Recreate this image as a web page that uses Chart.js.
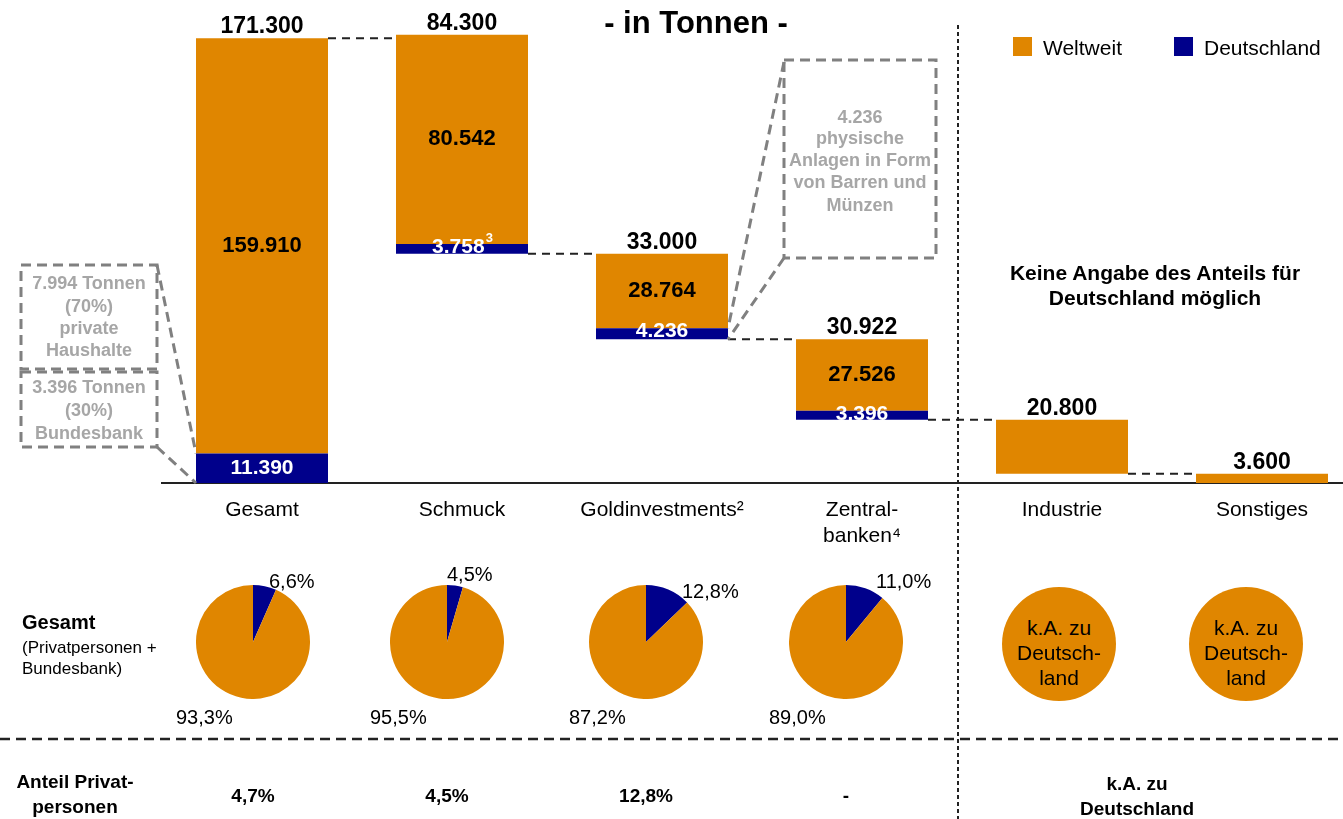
<!DOCTYPE html>
<html>
<head>
<meta charset="utf-8">
<script src="https://cdn.jsdelivr.net/npm/chart.js"></script>
<style>
  html, body { margin: 0; padding: 0; overflow: hidden; background: #fff; width: 1343px; height: 819px; }
  body { position: relative; font-family: Arial, "Liberation Sans", sans-serif; color: #000; }
  #main { position: absolute; left: 0; top: 0; }
  .t { position: absolute; white-space: nowrap; line-height: 1; transform: translate(-50%, -50%); }
  .l { transform: translate(0, -50%); }
  .gray { color: #a6a6a6; font-weight: bold; font-size: 18px; }
  .sq { position: absolute; width: 19px; height: 19px; }
  .ka { position: absolute; width: 114px; height: 114px; border-radius: 50%; }
  .pie { position: absolute; }
</style>
</head>
<body>
<canvas id="main" width="1362" height="819"></canvas>
<script>
const FONT = 'Arial, "Liberation Sans", sans-serif';
const ORANGE = '#e08600';
const NAVY = '#00008b';

// Balken (Tonnen)
const categories = ['Gesamt', 'Schmuck', 'Goldinvestments²', ['Zentral-', 'banken⁴'], 'Industrie', 'Sonstiges'];
const totals = [171300, 84300, 33000, 30922, 20800, 3600];
const weltweitRest = [159910, 80542, 28764, 27526, 20800, 3600];
const deutschland = [11390, 3758, 4236, 3396, 0, 0];
const deNote = ['', '3', '', '', '', ''];
const barBase = [0, 88322, 55322, 24400, 3600, 0];

// Tortendiagramme (%)
const pieDE = [6.6, 4.5, 12.8, 11.0];
const pieWelt = [93.3, 95.5, 87.2, 89.0];
const pieX = [253, 447, 646, 846];
const deLabelPos = [[269, 581], [447, 574], [682, 591], [876, 581]];

// Anteil Privatpersonen
const privatAnteil = ['4,7%', '4,5%', '12,8%', '-'];

const fmt = v => v.toLocaleString('de-DE');
const fmtPct = v => v.toLocaleString('de-DE', { minimumFractionDigits: 1, maximumFractionDigits: 1 }) + '%';

function txt(s, x, y, css, left) {
  const d = document.createElement('div');
  d.className = 't' + (left ? ' l' : '');
  d.textContent = s;
  d.style.left = x + 'px';
  d.style.top = y + 'px';
  d.style.cssText += css || '';
  document.body.appendChild(d);
  return d;
}

function line(ctx, x1, y1, x2, y2) {
  ctx.beginPath(); ctx.moveTo(x1, y1); ctx.lineTo(x2, y2); ctx.stroke();
}

const extras = {
  id: 'extras',
  afterDatasetsDraw(chart) {
    const ctx = chart.ctx, y = chart.scales.y;
    const wBars = chart.getDatasetMeta(1).data;
    ctx.save();

    // Verbindungslinien
    ctx.strokeStyle = '#222'; ctx.lineWidth = 2; ctx.setLineDash([8, 6]);
    for (let i = 0; i < categories.length - 1; i++) {
      const level = i === 0 ? totals[0] : barBase[i];
      const py = y.getPixelForValue(level);
      line(ctx, wBars[i].x + wBars[i].width / 2, py, wBars[i + 1].x - wBars[i + 1].width / 2, py);
    }

    // Werte
    ctx.setLineDash([]);
    ctx.textAlign = 'center';
    for (let i = 0; i < categories.length; i++) {
      const x = wBars[i].x;
      const top = y.getPixelForValue(barBase[i] + totals[i]);
      ctx.fillStyle = '#000';
      ctx.font = 'bold 23px ' + FONT;
      ctx.textBaseline = 'alphabetic';
      ctx.fillText(fmt(totals[i]), x, top - 5);
      if (deutschland[i] > 0) {
        const deTop = y.getPixelForValue(barBase[i] + deutschland[i]);
        const deBot = y.getPixelForValue(barBase[i]);
        ctx.font = 'bold 22px ' + FONT;
        ctx.textBaseline = 'middle';
        ctx.fillText(fmt(weltweitRest[i]), x, (top + deTop) / 2);
        ctx.fillStyle = '#fff';
        ctx.font = 'bold 21px ' + FONT;
        const ly = deBot - deTop > 20 ? (deTop + deBot) / 2 : deTop + 3;
        const main = fmt(deutschland[i]);
        if (deNote[i]) {
          const w = ctx.measureText(main).width;
          ctx.font = 'bold 13px ' + FONT;
          const w2 = ctx.measureText(deNote[i]).width;
          ctx.textAlign = 'left';
          ctx.fillText(deNote[i], x - (w + w2) / 2 + w + 1, ly - 8);
          ctx.font = 'bold 21px ' + FONT;
          ctx.fillText(main, x - (w + w2) / 2, ly);
          ctx.textAlign = 'center';
        } else {
          ctx.fillText(main, x, ly);
        }
      }
    }

    // Anmerkungsboxen
    ctx.strokeStyle = '#808080'; ctx.lineWidth = 3; ctx.setLineDash([10, 6]);
    ctx.strokeRect(21, 265, 136, 104);
    ctx.strokeRect(21, 372, 136, 75);
    ctx.strokeRect(784, 60, 152, 198);
    const g = wBars[0].x - wBars[0].width / 2;
    line(ctx, 157, 265, g, y.getPixelForValue(barBase[0] + deutschland[0]));
    line(ctx, 157, 447, g, y.getPixelForValue(barBase[0]));
    const r = wBars[2].x + wBars[2].width / 2;
    line(ctx, 784, 62, r, y.getPixelForValue(barBase[2] + deutschland[2]));
    line(ctx, 784, 258, r, y.getPixelForValue(barBase[2]));
    ctx.restore();
  },
  afterDraw(chart) {
    const ctx = chart.ctx;
    ctx.save();
    ctx.strokeStyle = '#222'; ctx.lineWidth = 2;
    ctx.setLineDash([4, 3]);
    line(ctx, 958, 25, 958, 819);
    ctx.setLineDash([10, 6]); ctx.lineWidth = 2.5;
    line(ctx, 0, 739, 1343, 739);
    ctx.restore();
  }
};

new Chart(document.getElementById('main'), {
  type: 'bar',
  data: {
    labels: categories,
    datasets: [
      {
        label: 'Deutschland',
        data: deutschland.map((v, i) => v > 0 ? [barBase[i], barBase[i] + v] : null),
        backgroundColor: NAVY, grouped: false, barPercentage: 0.66, categoryPercentage: 1
      },
      {
        label: 'Weltweit',
        data: weltweitRest.map((v, i) => [barBase[i] + deutschland[i], barBase[i] + deutschland[i] + v]),
        backgroundColor: ORANGE, grouped: false, barPercentage: 0.66, categoryPercentage: 1
      }
    ]
  },
  options: {
    responsive: false,
    animation: false,
    layout: { padding: { left: 162, right: 0, top: 0, bottom: 0 } },
    plugins: { legend: { display: false }, tooltip: { enabled: false } },
    scales: {
      x: {
        grid: { display: false, drawTicks: false },
        border: { display: true, color: '#222', width: 2 },
        ticks: { color: '#000', padding: 15, font: { size: 21, family: FONT } },
        afterFit(s) { s.height = 336; }
      },
      y: { display: false, min: 0, max: 186000 }
    }
  },
  plugins: [extras]
});

// Tortendiagramme
pieDE.forEach((v, i) => {
  const c = document.createElement('canvas');
  c.width = 114; c.height = 114; c.className = 'pie';
  c.style.left = (pieX[i] - 57) + 'px';
  c.style.top = (642 - 57) + 'px';
  document.body.appendChild(c);
  new Chart(c, {
    type: 'pie',
    data: { labels: ['Deutschland', 'Weltweit'], datasets: [{ data: [v, pieWelt[i]], backgroundColor: [NAVY, ORANGE], borderWidth: 0 }] },
    options: { responsive: false, animation: false, plugins: { legend: { display: false }, tooltip: { enabled: false } } }
  });
  txt(fmtPct(v), deLabelPos[i][0], deLabelPos[i][1], 'font-size:20px;', true);
  txt(fmtPct(pieWelt[i]), pieX[i] - 77, 717, 'font-size:20px;', true);
  txt(privatAnteil[i], pieX[i], 795, 'font-size:19px;font-weight:bold;');
});

// k.A.-Kreise
[1059, 1246].forEach(cx => {
  const d = document.createElement('div');
  d.className = 'ka';
  d.style.left = (cx - 57) + 'px'; d.style.top = (644 - 57) + 'px';
  d.style.background = ORANGE;
  document.body.appendChild(d);
  txt('k.A. zu', cx, 627, 'font-size:21px;');
  txt('Deutsch-', cx, 652, 'font-size:21px;');
  txt('land', cx, 677, 'font-size:21px;');
});

// Titel und Legende
txt('- in Tonnen -', 696, 22, 'font-size:31px;font-weight:bold;');
[[1013, ORANGE, 'Weltweit'], [1174, NAVY, 'Deutschland']].forEach(([x, col, name]) => {
  const s = document.createElement('div');
  s.className = 'sq'; s.style.left = x + 'px'; s.style.top = '37px'; s.style.background = col;
  document.body.appendChild(s);
  txt(name, x + 30, 47, 'font-size:21px;', true);
});

// Texte
txt('Keine Angabe des Anteils für', 1155, 272, 'font-size:21px;font-weight:bold;');
txt('Deutschland möglich', 1155, 297, 'font-size:21px;font-weight:bold;');

[['7.994 Tonnen', 283], ['(70%)', 306], ['private', 328], ['Haushalte', 350],
 ['3.396 Tonnen', 387], ['(30%)', 410], ['Bundesbank', 433]].forEach(([s, y]) => {
  txt(s, 89, y).className += ' gray';
});
[['4.236', 117], ['physische', 138], ['Anlagen in Form', 160], ['von Barren und', 182], ['Münzen', 205]].forEach(([s, y]) => {
  txt(s, 860, y).className += ' gray';
});

txt('Gesamt', 22, 622, 'font-size:20px;font-weight:bold;', true);
txt('(Privatpersonen +', 22, 647, 'font-size:17px;', true);
txt('Bundesbank)', 22, 668, 'font-size:17px;', true);

txt('Anteil Privat-', 75, 781, 'font-size:19px;font-weight:bold;');
txt('personen', 75, 806, 'font-size:19px;font-weight:bold;');
txt('k.A. zu', 1137, 783, 'font-size:19px;font-weight:bold;');
txt('Deutschland', 1137, 808, 'font-size:19px;font-weight:bold;');
</script>
</body>
</html>
